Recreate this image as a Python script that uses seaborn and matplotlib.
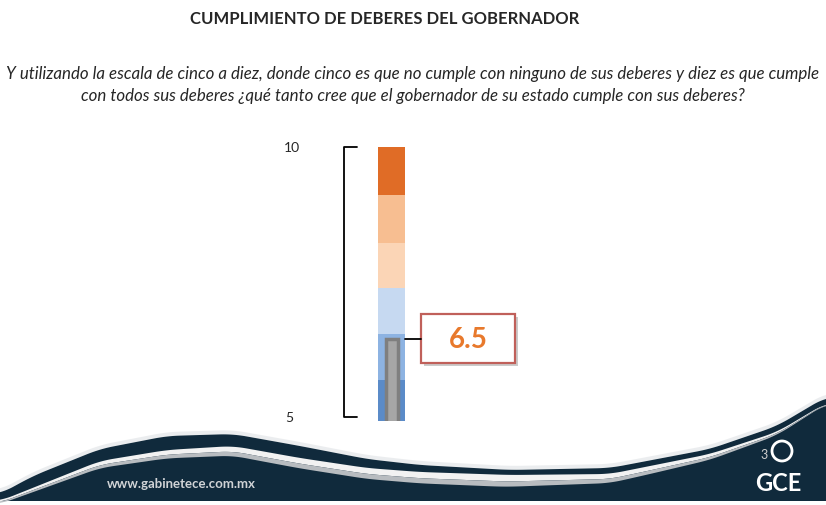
import numpy as np
import pandas as pd
import matplotlib
matplotlib.use('Agg')
import matplotlib.pyplot as plt
import matplotlib.patheffects as pe
from matplotlib.patches import Rectangle
import seaborn as sns

# datos
titulo = 'CUMPLIMIENTO DE DEBERES DEL GOBERNADOR'
pregunta = ['Y utilizando la escala de cinco a diez, donde cinco es que no cumple con ninguno de sus deberes y diez es que cumple',
            'con todos sus deberes ¿qué tanto cree que el gobernador de su estado cumple con sus deberes?']
escala_min = 5
escala_max = 10
limites = [5.75, 6.58, 7.42, 8.25, 9.12, 10]
colores = ['#5b8bc8', '#8db3e2', '#c6d9f1', '#fbd5b6', '#f7be91', '#e06c26']
calificacion = 6.5

sns.set_style('white')
plt.rcParams['font.family'] = ['Lato', 'DejaVu Sans']

W, H = 826, 506
fig = plt.figure(figsize=(W / 100, H / 100), dpi=100)

# fondo decorativo (ola inferior)
bg = fig.add_axes([0, 0, 1, 1], zorder=0)
bg.set_xlim(0, W)
bg.set_ylim(H, 0)
bg.axis('off')

xs = np.linspace(0, W, 400)
def suave(px, py, k=6):
    y = np.interp(xs, px, py)
    y = np.convolve(np.pad(y, k, mode='edge'), np.ones(2 * k + 1) / (2 * k + 1), mode='same')[k:-k]
    return y

borde = suave([0, 33, 100, 167, 233, 300, 367, 420, 510, 610, 710, 777, 826],
              [495, 477, 450, 437, 435, 447, 460, 466, 471, 469, 450, 427, 398])
brillo = suave([0, 100, 167, 233, 300, 367, 420, 510, 610, 710, 777, 826],
               [502, 462, 451, 447, 459, 469, 473, 476, 475, 455, 433, 404])
grosor = suave([0, 100, 250, 500, 650, 760, 826], [3, 7, 10, 12, 8, 4, 1])
bg.fill_between(xs, borde - 4, borde, color='#dfe2e5', alpha=0.6, lw=0)
bg.fill_between(xs, borde, 502, color='#102a3c', lw=0)
bg.fill_between(xs, brillo, brillo + grosor * 0.55, color='#f2f2f2', lw=0)
bg.fill_between(xs, brillo + grosor * 0.55, brillo + grosor, color='#b8bcc0', lw=0)

fig.text(107 / W, 1 - 484 / H, 'www.gabinetece.com.mx', color='#d0d3d6',
         fontsize=9.5, fontweight='bold', ha='left', va='center')
fig.text(778 / W, 1 - 484 / H, 'GCE', color='white', fontsize=17,
         fontweight='bold', ha='center', va='center')
bg.add_patch(plt.Circle((782, 452), 10, fill=False, ec='white', lw=2))
fig.text(764 / W, 1 - 455 / H, '3', color='#cfcfcf', fontsize=9, ha='center', va='center')

# textos superiores
fig.text(385 / W, 1 - 19 / H, titulo, fontsize=12, fontweight='bold',
         ha='center', va='center')
fig.text(413 / W, 1 - 74 / H, pregunta[0], fontsize=12.2, style='italic',
         ha='center', va='center')
fig.text(413 / W, 1 - 96 / H, pregunta[1], fontsize=12.2, style='italic',
         ha='center', va='center')

# termometro
ax = fig.add_axes([280 / W, (H - 422) / H, 260 / W, 274 / H], zorder=2)
ax.patch.set_alpha(0)

df = pd.DataFrame({'pos': [0] * len(limites), 'limite': limites, 'tramo': range(len(limites))})
orden = list(range(len(limites)))[::-1]
sns.barplot(data=df, x='pos', y='limite', hue='tramo', hue_order=orden, dodge=False,
            palette=dict(zip(range(len(limites)), colores)), width=0.27,
            saturation=1, linewidth=0, legend=False, ax=ax)
sns.barplot(x=[0], y=[calificacion], color='#a6a6a6', width=0.12, saturation=1,
            edgecolor='#7f7f7f', linewidth=2.5, ax=ax)

ax.set_ylim(escala_min, escala_max)
ax.set_xlim(-1.115, 1.485)
ax.axis('off')

# corchete de escala
ax.plot([-0.345, -0.475, -0.475, -0.345], [escala_max, escala_max, escala_min + 0.07, escala_min + 0.07],
        color='black', lw=1.3, clip_on=False)
ax.text(-0.995, escala_max, str(escala_max), fontsize=10, ha='center', va='center')
ax.text(-1.025, escala_min + 0.07, str(escala_min), fontsize=10, ha='center', va='center')

# recuadro con la calificacion
ax.plot([0.135, 0.295], [calificacion, calificacion], color='black', lw=1.3, clip_on=False)
caja = Rectangle((0.295, calificacion - 0.447), 0.94, 0.894, fc='white', ec='#c0605a',
                 lw=1.6, clip_on=False,
                 path_effects=[pe.withSimplePatchShadow(offset=(2, -2), shadow_rgbFace='#999999', alpha=0.5)])
ax.add_patch(caja)
ax.text(0.765, calificacion, f'{calificacion:.1f}', color='#e8792c', fontsize=20,
        fontweight='bold', ha='center', va='center')

fig.savefig('out.png', dpi=100)
